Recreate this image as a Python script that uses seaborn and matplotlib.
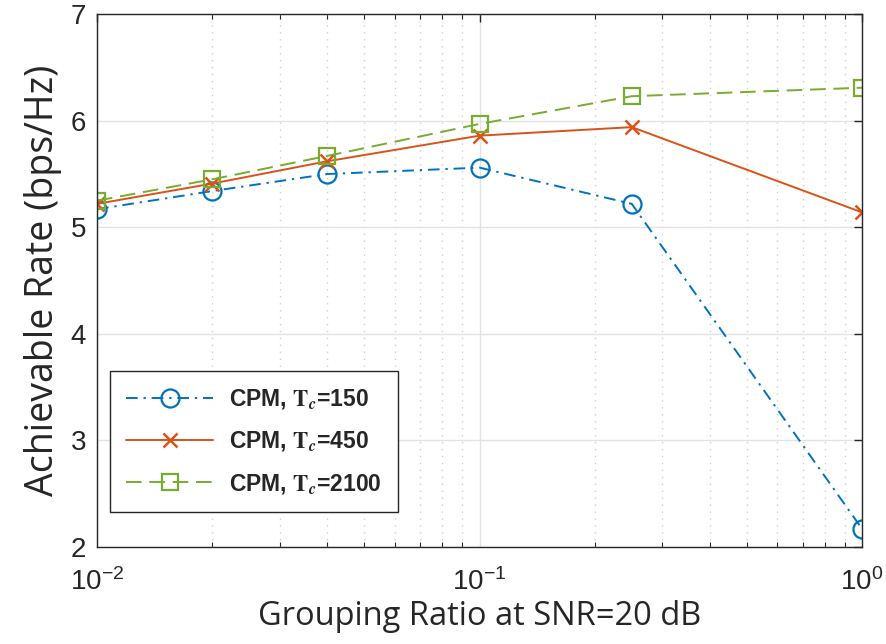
import matplotlib
matplotlib.use("Agg")
import matplotlib.pyplot as plt
import seaborn as sns
import pandas as pd
from matplotlib.ticker import LogLocator, NullFormatter

# Grouping ratios and achievable rates for each coherence time
grouping_ratio = [0.01, 0.02, 0.04, 0.1, 0.25, 1.0]
rate_tc150 = [5.17, 5.34, 5.50, 5.56, 5.22, 2.17]
rate_tc450 = [5.22, 5.41, 5.62, 5.86, 5.94, 5.14]
rate_tc2100 = [5.25, 5.45, 5.67, 5.97, 6.23, 6.31]

series_labels = [r"CPM, $\mathbf{T}_{\mathbfit{c}}$=150",
                 r"CPM, $\mathbf{T}_{\mathbfit{c}}$=450",
                 r"CPM, $\mathbf{T}_{\mathbfit{c}}$=2100"]

sns.set_theme(style="white")
plt.rcParams["font.family"] = ["Liberation Sans", "DejaVu Sans"]
plt.rcParams["mathtext.fontset"] = "stix"

fig = plt.figure(figsize=(8.86, 6.44), dpi=100)
ax = fig.add_axes([0.1095, 0.1506, 0.8635, 0.8274])

styles = [
    (rate_tc150, "#0072BD", (0, (6, 3, 1.2, 3)), "o", 13, dict(markerfacecolor="none", markeredgewidth=1.6)),
    (rate_tc450, "#D95319", "-", "x", 10, dict(markeredgewidth=1.8)),
    (rate_tc2100, "#77AC30", (0, (8, 4)), "s", 11, dict(markerfacecolor="none", markeredgewidth=1.6)),
]

for (vals, color, ls, mk, ms, kw), label in zip(styles, series_labels):
    df = pd.DataFrame({"ratio": grouping_ratio, "rate": vals})
    sns.lineplot(data=df, x="ratio", y="rate", ax=ax, color=color, linestyle=ls,
                 marker=mk, markersize=ms, markeredgecolor=color, linewidth=1.4,
                 label=label, **kw)

ax.set_xscale("log")
ax.set_xlim(0.01, 1.0)
ax.set_ylim(2, 7)
ax.set_yticks([2, 3, 4, 5, 6, 7])
ax.xaxis.set_major_locator(LogLocator(base=10, numticks=10))
ax.xaxis.set_minor_locator(LogLocator(base=10, subs=range(2, 10), numticks=20))
ax.xaxis.set_minor_formatter(NullFormatter())

ax.grid(True, which="major", color="#e3e3e3", linestyle="-", linewidth=1.0)
ax.grid(True, which="minor", axis="x", color="#d0d0d0", linestyle=(0, (1, 4)), linewidth=1.0)
ax.set_axisbelow(True)

for sp in ax.spines.values():
    sp.set_color("#262626")
    sp.set_linewidth(1.0)

ax.tick_params(axis="both", which="major", direction="in", length=6, width=1,
               color="#262626", labelsize=20, labelcolor="#262626",
               top=True, right=True, pad=8)
ax.tick_params(axis="x", which="major", pad=15)
ax.tick_params(axis="x", which="minor", direction="in", length=3.5, width=0.8,
               color="#262626", top=True, bottom=True)

label_font = ["Open Sans", "DejaVu Sans"]
ax.set_xlabel("Grouping Ratio at SNR=20 dB", fontsize=23.5, family=label_font, labelpad=3)
ax.set_ylabel("Achievable Rate (bps/Hz)", fontsize=27, family=label_font, labelpad=6)

leg = ax.legend(loc="lower left", bbox_to_anchor=(0.017, 0.066), borderaxespad=0,
                fancybox=False, edgecolor="#262626", framealpha=1.0, borderpad=0.7,
                labelspacing=0.8, handlelength=3.8, handletextpad=0.7,
                prop={"family": "Liberation Sans", "weight": "bold", "size": 16.5})
leg.get_frame().set_linewidth(1.0)

fig.savefig("out.png", dpi=100)
